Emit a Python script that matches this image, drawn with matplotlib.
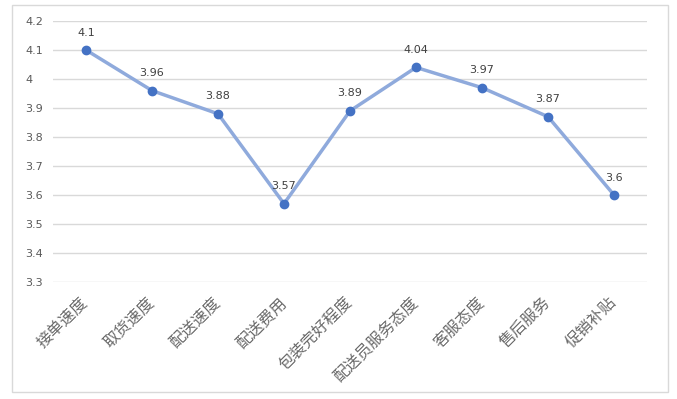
import matplotlib.pyplot as plt
from matplotlib.patches import Rectangle

plt.rcParams['font.family'] = ['Noto Sans CJK SC', 'DejaVu Sans']

categories = ['接单速度', '取货速度', '配送速度', '配送费用', '包装完好程度',
              '配送员服务态度', '客服态度', '售后服务', '促销补贴']
scores = [4.1, 3.96, 3.88, 3.57, 3.89, 4.04, 3.97, 3.87, 3.6]
score_labels = ['4.1', '3.96', '3.88', '3.57', '3.89', '4.04', '3.97', '3.87', '3.6']
yticks = [3.3, 3.4, 3.5, 3.6, 3.7, 3.8, 3.9, 4.0, 4.1, 4.2]
ytick_labels = ['3.3', '3.4', '3.5', '3.6', '3.7', '3.8', '3.9', '4', '4.1', '4.2']

fig = plt.figure(figsize=(6.77, 3.99), dpi=100)
ax = fig.add_axes([53 / 677, 1 - 282 / 399, 594 / 677, 261 / 399])

# outer chart border like excel
fig.patches.append(Rectangle((12 / 677, 1 - 392 / 399), 656 / 677, 387 / 399,
                             transform=fig.transFigure, fill=False,
                             edgecolor='#d9d9d9', linewidth=1))

x = list(range(len(categories)))
ax.plot(x, scores, color='#8faadc', linewidth=2.5, zorder=3)
ax.plot(x, scores, linestyle='none', marker='o', markersize=6,
        markerfacecolor='#4472c4', markeredgecolor='#4472c4', zorder=4)

for xi, yi, lab in zip(x, scores, score_labels):
    ax.annotate(lab, (xi, yi), xytext=(0, 9), textcoords='offset points',
                ha='center', va='bottom', fontsize=8, color='#404040',
                family='DejaVu Sans')

ax.set_xlim(-0.5, len(categories) - 0.5)
ax.set_ylim(3.3, 4.2)
ax.set_yticks(yticks)
ax.set_yticklabels(ytick_labels, fontsize=8, color='#595959', family='DejaVu Sans')
ax.set_xticks(x)
ax.set_xticklabels(categories, rotation=45, ha='right', va='center',
                   rotation_mode='anchor', fontsize=11.5, color='#6a6a6a')
ax.tick_params(axis='both', length=0)
ax.tick_params(axis='x', pad=13)
ax.tick_params(axis='y', pad=20)
for lab in ax.get_yticklabels():
    lab.set_horizontalalignment('left')

ax.grid(True, axis='y', color='#d9d9d9', linewidth=1)
ax.set_axisbelow(True)
for s in ax.spines.values():
    s.set_visible(False)

fig.savefig('out.png', dpi=100)
